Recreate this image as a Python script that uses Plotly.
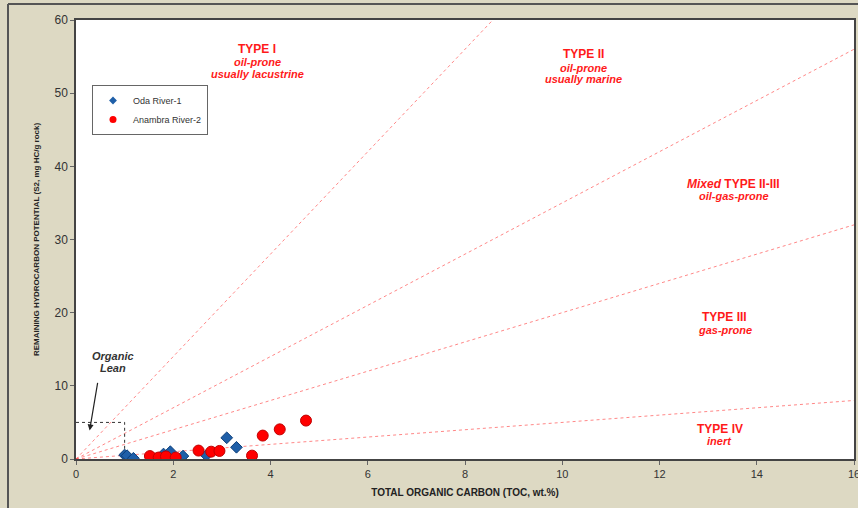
import plotly.graph_objects as go

# Data
oda_toc = [1.00, 1.05, 1.18, 1.66, 1.80, 1.94, 2.20, 2.68, 3.10, 3.30]
oda_s2 = [0.55, 0.45, 0.10, 0.05, 0.68, 1.00, 0.40, 0.50, 2.90, 1.60]
anambra_toc = [1.52, 1.70, 1.85, 2.05, 2.52, 2.78, 2.95, 3.62, 3.84, 4.19, 4.73]
anambra_s2 = [0.40, 0.20, 0.35, 0.20, 1.15, 1.00, 1.10, 0.46, 3.20, 4.05, 5.25]

# Hydrogen-index boundary slopes (S2/TOC)
boundary_slopes = [7.0, 3.5, 2.0, 0.5]
x_max, y_max = 16, 60
x_ticks = [0, 2, 4, 6, 8, 10, 12, 14, 16]
y_ticks = [0, 10, 20, 30, 40, 50, 60]

RED = "#FF1A1A"
FONT = "Arial, Liberation Sans"
fig = go.Figure()

for s in boundary_slopes:
    xe = min(x_max, y_max / s)
    fig.add_trace(go.Scatter(x=[0, xe], y=[0, s * xe], mode="lines",
                             line=dict(color="rgba(255,70,70,0.65)", width=1, dash="dot"),
                             showlegend=False, hoverinfo="skip"))

# Organic lean box
fig.add_trace(go.Scatter(x=[0, 1, 1], y=[5, 5, 0], mode="lines",
                         line=dict(color="#333333", width=1, dash="dot"),
                         showlegend=False, hoverinfo="skip"))

fig.add_trace(go.Scatter(x=oda_toc, y=oda_s2, mode="markers", name="Oda River-1",
                         showlegend=False,
                         marker=dict(symbol="diamond", size=9, color="#1F5FA8",
                                     line=dict(color="#0D3F7A", width=1))))
fig.add_trace(go.Scatter(x=anambra_toc, y=anambra_s2, mode="markers", name="Anambra River-2",
                         showlegend=False,
                         marker=dict(symbol="circle", size=11, color="#FF0000",
                                     line=dict(color="#C00000", width=1))))
# legend entries with small symbols
fig.add_trace(go.Scatter(x=[None], y=[None], mode="markers", name="Oda River-1",
                         marker=dict(symbol="diamond", size=6, color="#1F5FA8")))
fig.add_trace(go.Scatter(x=[None], y=[None], mode="markers", name="Anambra River-2",
                         marker=dict(symbol="circle", size=7, color="#FF0000")))

annots = [
    (3.73, 56.1, "<b>TYPE I</b>", 12),
    (3.73, 54.2, "<b><i>oil-prone</i></b>", 11),
    (3.73, 52.6, "<b><i>usually lacustrine</i></b>", 11),
    (10.44, 55.3, "<b>TYPE II</b>", 12),
    (10.44, 53.5, "<b><i>oil-prone</i></b>", 11),
    (10.44, 52.0, "<b><i>usually marine</i></b>", 11),
    (13.53, 37.6, "<b><i>Mixed</i> TYPE II-III</b>", 12),
    (13.53, 36.0, "<b><i>oil-gas-prone</i></b>", 11),
    (13.34, 19.4, "<b>TYPE III</b>", 12),
    (13.34, 17.7, "<b><i>gas-prone</i></b>", 11),
    (13.24, 4.1, "<b>TYPE IV</b>", 12),
    (13.24, 2.4, "<b><i>inert</i></b>", 11),
]
for x, y, t, sz in annots:
    fig.add_annotation(x=x, y=y, text=t, showarrow=False,
                       font=dict(family=FONT, size=sz, color=RED))

fig.add_annotation(x=0.77, y=14.1, text="<b><i>Organic</i></b>", showarrow=False,
                   font=dict(family=FONT, size=11, color="#333333"))
fig.add_annotation(x=0.77, y=12.5, text="<b><i>Lean</i></b>", showarrow=False,
                   font=dict(family=FONT, size=11, color="#333333"))
fig.add_annotation(x=0.28, y=3.9, ax=0.45, ay=10.6, xref="x", yref="y", axref="x", ayref="y",
                   text="", showarrow=True, arrowhead=2, arrowsize=1, arrowwidth=1.2,
                   arrowcolor="#222222")

# Outer border lines (top & left)
def px2paper_x(px):
    return (px - 76) / 778
def px2paper_y(py):
    return (459 - py) / 439
fig.add_shape(type="line", xref="paper", yref="paper",
              x0=px2paper_x(8), x1=px2paper_x(858), y0=px2paper_y(4), y1=px2paper_y(4),
              line=dict(color="#555555", width=2))
fig.add_shape(type="line", xref="paper", yref="paper",
              x0=px2paper_x(8), x1=px2paper_x(8), y0=px2paper_y(4), y1=px2paper_y(508),
              line=dict(color="#555555", width=2))

fig.update_layout(
    width=858, height=508,
    margin=dict(l=76, r=4, t=20, b=49, autoexpand=False),
    paper_bgcolor="#DDD9C3", plot_bgcolor="white",
    font=dict(family=FONT, color="#333333"),
    legend=dict(x=px2paper_x(92), y=px2paper_y(85), xanchor="left", yanchor="top",
                bgcolor="white", bordercolor="#666666", borderwidth=1,
                font=dict(size=9, color="#333333"), itemwidth=30,
                tracegroupgap=0),
    xaxis=dict(range=[0, x_max], tickvals=x_ticks, showgrid=False, zeroline=False,
               automargin=False, ticklabeloverflow="allow",
               ticks="outside", ticklen=4, tickcolor="#666666",
               showline=True, linecolor="#444444", linewidth=1.5, mirror=True,
               tickfont=dict(size=11, color="#333333"),
               title=dict(text="<b>TOTAL ORGANIC CARBON (TOC, wt.%)</b>",
                          font=dict(size=10, color="#222222"), standoff=10)),
    yaxis=dict(range=[0, y_max], tickvals=y_ticks, showgrid=False, zeroline=False,
               automargin=False,
               ticks="outside", ticklen=4, tickcolor="#666666",
               showline=True, linecolor="#444444", linewidth=1.5, mirror=True,
               tickfont=dict(size=12, color="#333333"),
               title=dict(text="<b>REMAINING HYDROCARBON POTENTIAL (S2, mg HC/g rock)</b>",
                          font=dict(size=8, color="#222222"), standoff=14)),
)

fig.write_html("out.html", config={"displayModeBar": False},
               post_script="document.body.style.margin='0px';document.body.style.overflow='hidden';")
